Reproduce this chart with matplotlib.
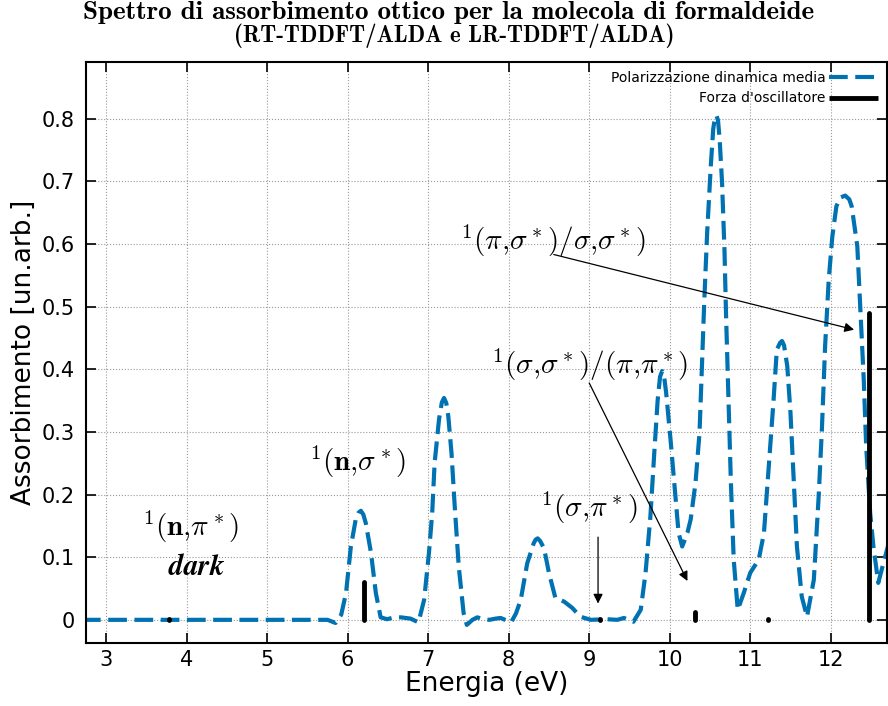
import numpy as np
import matplotlib
matplotlib.use("Agg")
import matplotlib.pyplot as plt

plt.rcParams['mathtext.fontset'] = 'cm'

# averaged dynamic polarizability (RT-TDDFT), read on an energy grid in eV
energy = [2.70, 3.0, 3.5, 4.0, 4.5, 5.0, 5.5, 5.75, 5.85, 5.92, 5.98, 6.04, 6.10,
          6.135, 6.164, 6.195, 6.226, 6.29, 6.35, 6.41, 6.49, 6.58, 6.66, 6.78, 6.88,
          6.95, 7.01, 7.05, 7.08, 7.135, 7.17, 7.197, 7.225, 7.25, 7.29, 7.33, 7.38,
          7.44, 7.48, 7.55, 7.61, 7.68, 7.76, 7.84, 7.90, 8.03, 8.09, 8.15, 8.23,
          8.31, 8.335, 8.36, 8.39, 8.44, 8.50, 8.58, 8.69, 8.79, 8.89, 9.02, 9.22,
          9.35, 9.43, 9.55, 9.64, 9.70, 9.76, 9.81, 9.85, 9.88, 9.906, 9.93, 9.956,
          10.01, 10.06, 10.11, 10.155, 10.22, 10.26, 10.32, 10.37, 10.40, 10.43,
          10.465, 10.51, 10.54, 10.56, 10.58, 10.60, 10.62, 10.65, 10.68, 10.70,
          10.73, 10.76, 10.795, 10.845, 10.92, 11.00, 11.105, 11.17, 11.23, 11.29,
          11.33, 11.37, 11.395, 11.42, 11.46, 11.50, 11.54, 11.58, 11.64, 11.705,
          11.79, 11.85, 11.89, 11.93, 11.975, 12.02, 12.07, 12.12, 12.18, 12.23,
          12.26, 12.33, 12.37, 12.41, 12.44, 12.49, 12.53, 12.59, 12.655, 12.72]
absorb = [0.0, 0.0, 0.0, 0.0, 0.0, 0.0, 0.0, 0.0, -0.005, 0.008, 0.043, 0.117, 0.160,
          0.171, 0.174, 0.168, 0.154, 0.107, 0.043, 0.004, 0.001, 0.004, 0.004, 0.002,
          -0.004, 0.032, 0.107, 0.17, 0.25, 0.32, 0.347, 0.354, 0.346, 0.325, 0.266,
          0.181, 0.085, 0.011, -0.008, 0.0, 0.004, 0.001, 0.0, 0.002, 0.003, -0.004,
          0.01, 0.032, 0.09, 0.122, 0.128, 0.130, 0.126, 0.114, 0.075, 0.035, 0.029,
          0.019, 0.005, 0.0, 0.001, 0.0, 0.003, -0.003, 0.016, 0.075, 0.165, 0.27,
          0.35, 0.388, 0.397, 0.389, 0.362, 0.288, 0.213, 0.139, 0.117, 0.139, 0.16,
          0.218, 0.298, 0.405, 0.511, 0.618, 0.724, 0.783, 0.800, 0.805, 0.797,
          0.767, 0.698, 0.591, 0.485, 0.351, 0.218, 0.096, 0.016, 0.043, 0.075,
          0.096, 0.138, 0.245, 0.351, 0.431, 0.442, 0.445, 0.438, 0.405, 0.33,
          0.224, 0.117, 0.037, 0.005, 0.064, 0.197, 0.304, 0.437, 0.543, 0.612,
          0.66, 0.674, 0.677, 0.671, 0.66, 0.596, 0.49, 0.383, 0.277, 0.17, 0.117,
          0.059, 0.091, 0.122]

# LR-TDDFT excitations and oscillator strengths
exc_energy = [3.78, 6.20, 9.13, 10.32, 11.22, 12.47]
osc_strength = [0.001, 0.061, 0.001, 0.013, 0.001, 0.49]

fig = plt.figure(figsize=(8.88, 7.06), dpi=100)
ax = fig.add_axes([0.0968, 0.0892, 0.9022, 0.8228])

ax.plot(energy, absorb, color='#0072b2', lw=3, dashes=(4.5, 1.8),
        solid_joinstyle='round', dash_joinstyle='round',
        label='Polarizzazione dinamica media')
ax.vlines(exc_energy, 0, osc_strength, color='black', lw=3.5, capstyle='round',
          label="Forza d'oscillatore")

ax.set_xlim(2.75, 12.7)
ax.set_ylim(-0.037, 0.89)
ax.set_xticks(range(3, 13))
yt = [0, 0.1, 0.2, 0.3, 0.4, 0.5, 0.6, 0.7, 0.8]
ax.set_yticks(yt)
ax.set_yticklabels(['0'] + ['%.1f' % v for v in yt[1:]])
ax.tick_params(direction='in', top=True, right=True, length=7, width=1.2,
               labelsize=15)
ax.tick_params(axis='y', pad=8)
ax.tick_params(axis='x', pad=5)
for s in ax.spines.values():
    s.set_linewidth(1.5)
ax.grid(True, ls=':', color='#999999', lw=0.8)

ax.set_xlabel('Energia (eV)', fontsize=19, labelpad=1)
ax.set_ylabel('Assorbimento [un.arb.]', fontsize=19, labelpad=3)

fig.text(0.505, 0.983, 'Spettro di assorbimento ottico per la molecola di formaldeide',
         family='cmb10', fontsize=19.5, ha='center', va='center')
fig.text(0.511, 0.950, '(RT-TDDFT/ALDA e LR-TDDFT/ALDA)',
         family='cmb10', fontsize=16.5, ha='center', va='center')

ax.legend(loc='upper right', frameon=False, markerfirst=False, fontsize=10,
          handlelength=3.5, borderaxespad=0.25, labelspacing=0.45, handletextpad=0.3)

# transition labels
ts = 21
ax.text(4.05, 0.148, r'${}^1(\mathbf{n}{,}\pi^*)$', fontsize=ts, ha='center', va='center')
ax.text(4.12, 0.085, r'$\boldsymbol{dark}$', fontsize=ts, ha='center', va='center')
ax.text(6.12, 0.252, r'${}^1(\mathbf{n}{,}\sigma^*)$', fontsize=ts, ha='center', va='center')
ax.text(9.0, 0.178, r'${}^1(\sigma{,}\pi^*)$', fontsize=ts, ha='center', va='center')
ax.text(9.0, 0.407, r'${}^1(\sigma{,}\sigma^*)/(\pi{,}\pi^*)$', fontsize=ts, ha='center', va='center')
ax.text(8.55, 0.604, r'${}^1(\pi{,}\sigma^*)/\sigma{,}\sigma^*)$', fontsize=ts, ha='center', va='center')

arw = dict(arrowstyle='-|>', color='black', lw=0.9, mutation_scale=14, shrinkA=0, shrinkB=0)
ax.annotate('', xy=(9.11, 0.026), xytext=(9.11, 0.132), arrowprops=arw)
ax.annotate('', xy=(10.22, 0.062), xytext=(9.0, 0.378), arrowprops=arw)
ax.annotate('', xy=(12.29, 0.463), xytext=(8.56, 0.583), arrowprops=arw)

fig.savefig('out.png', dpi=100)
